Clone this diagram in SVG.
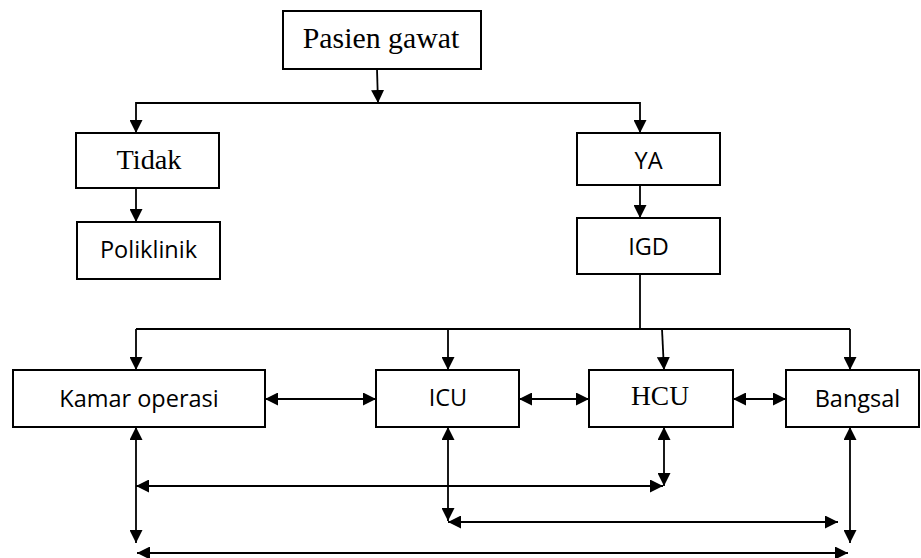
<svg xmlns="http://www.w3.org/2000/svg" width="921" height="558" viewBox="0 0 921 558">
<defs>
<style>
.box{fill:#fff;stroke:#000;stroke-width:2}
.serif{font-family:"Liberation Serif","Times New Roman",serif;fill:#000;text-anchor:middle}
.sans{font-family:"Open Sans","Noto Sans",sans-serif;font-size:23.5px;fill:#000;text-anchor:middle}
.c{fill:none;stroke:#000;stroke-width:1.8}
.a{marker-end:url(#ah)}
.d{marker-start:url(#ah);marker-end:url(#ah)}
</style>
<marker id="ah" markerUnits="userSpaceOnUse" markerWidth="13" markerHeight="13" refX="13" refY="6.5" orient="auto-start-reverse">
<path d="M0,0 L13,6.5 L0,13 z" fill="#000"/>
</marker>
</defs>
<rect width="921" height="558" fill="#fff"/>
<g id="connectors">
<line class="c a" x1="377" y1="69" x2="378" y2="103"/>
<polyline class="c a" points="378,103 136,103 136,133"/>
<polyline class="c a" points="378,103 640,103 640,133"/>
<line class="c a" x1="136" y1="188" x2="136" y2="222"/>
<line class="c a" x1="640" y1="185" x2="640" y2="218"/>
<line class="c" x1="640" y1="274" x2="640" y2="329"/>
<line class="c" x1="136" y1="329" x2="850" y2="329"/>
<line class="c a" x1="136" y1="329" x2="136" y2="370"/>
<line class="c a" x1="448" y1="329" x2="448" y2="370"/>
<line class="c a" x1="662" y1="329" x2="664" y2="370"/>
<line class="c a" x1="850" y1="329" x2="850" y2="370"/>
<line class="c d" x1="265" y1="399" x2="376" y2="399"/>
<line class="c d" x1="519" y1="399" x2="589" y2="399"/>
<line class="c d" x1="733" y1="399" x2="786" y2="399"/>
<line class="c d" x1="136" y1="427" x2="136" y2="543"/>
<line class="c d" x1="136" y1="486" x2="663" y2="486"/>
<line class="c d" x1="664" y1="427" x2="664" y2="486"/>
<line class="c d" x1="448" y1="427" x2="448" y2="521"/>
<line class="c d" x1="448" y1="522" x2="838" y2="522"/>
<line class="c d" x1="850" y1="427" x2="850" y2="543"/>
<line class="c d" x1="137" y1="553" x2="848" y2="553"/>
</g>
<g id="pasien"><rect class="box" x="283" y="11" width="198" height="58"/><text class="serif" x="381" y="48" font-size="29.8">Pasien gawat</text></g>
<g id="tidak"><rect class="box" x="76" y="133" width="143" height="55"/><text class="serif" x="149" y="169" font-size="28.3">Tidak</text></g>
<g id="poliklinik"><rect class="box" x="77" y="222" width="143" height="57"/><text class="sans" x="148.5" y="258">Poliklinik</text></g>
<g id="ya"><rect class="box" x="577" y="133" width="143" height="52"/><text class="sans" x="648.5" y="169">YA</text></g>
<g id="igd"><rect class="box" x="577" y="218" width="143" height="56"/><text class="sans" x="648.5" y="255">IGD</text></g>
<g id="kamar"><rect class="box" x="13" y="370" width="252" height="57"/><text class="sans" x="139" y="407">Kamar operasi</text></g>
<g id="icu"><rect class="box" x="376" y="370" width="143" height="57"/><text class="sans" x="448" y="406">ICU</text></g>
<g id="hcu"><rect class="box" x="589" y="370" width="144" height="57"/><text class="serif" x="660" y="405" font-size="27.5">HCU</text></g>
<g id="bangsal"><rect class="box" x="786" y="370" width="133" height="57"/><text class="sans" x="857.5" y="407">Bangsal</text></g>
</svg>
